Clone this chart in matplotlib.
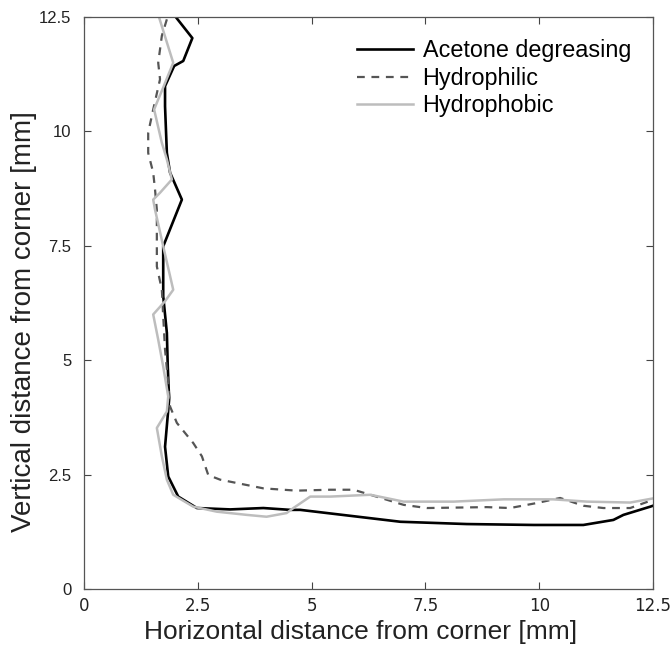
import matplotlib.pyplot as plt
from matplotlib import font_manager

# corner profiles, x/y in mm
acetone_x = [2.00, 2.38, 2.18, 1.98, 1.78, 1.78, 1.82, 1.89, 2.15, 1.74, 1.74, 1.82,
             1.84, 1.87, 1.78, 1.85, 2.07, 2.48, 3.21, 3.94, 4.53, 4.75, 5.85, 6.95,
             8.41, 9.88, 10.97, 11.63, 11.85, 12.44, 12.5]
acetone_y = [12.52, 12.04, 11.54, 11.43, 10.99, 10.55, 9.53, 9.10, 8.51, 7.49, 6.40, 5.60,
             4.86, 4.14, 3.11, 2.46, 2.02, 1.77, 1.74, 1.77, 1.73, 1.73, 1.60, 1.47,
             1.42, 1.40, 1.40, 1.51, 1.62, 1.80, 1.82]

philic_x = [1.82, 1.71, 1.63, 1.67, 1.52, 1.41, 1.41, 1.52, 1.56, 1.60, 1.60, 1.60,
            1.71, 1.74, 1.78, 1.85, 1.89, 2.04, 2.40, 2.59, 2.73, 2.99, 3.94, 4.67,
            5.41, 5.92, 6.29, 7.02, 7.53, 8.85, 9.36, 9.95, 10.46, 10.97, 11.41, 12.0, 12.5]
philic_y = [12.45, 12.09, 11.50, 11.14, 10.48, 9.97, 9.53, 9.10, 8.73, 8.29, 7.78, 7.05,
            6.54, 5.96, 5.23, 4.50, 3.99, 3.63, 3.19, 2.90, 2.49, 2.39, 2.20, 2.15,
            2.17, 2.17, 2.06, 1.84, 1.77, 1.79, 1.77, 1.88, 1.99, 1.82, 1.77, 1.77, 1.95]

phobic_x = [1.65, 1.96, 1.87, 1.74, 1.63, 1.54, 1.71, 1.82, 1.93, 1.67, 1.52, 1.56,
            1.74, 1.96, 1.78, 1.52, 1.63, 1.74, 1.85, 1.82, 1.60, 1.71, 1.82, 1.96,
            2.40, 2.92, 3.58, 4.01, 4.45, 4.60, 4.97, 5.41, 6.29, 7.02, 8.12, 9.22,
            10.31, 11.05, 12.0, 12.5]
phobic_y = [12.49, 11.50, 11.28, 10.96, 10.70, 10.48, 9.75, 9.39, 8.95, 8.66, 8.51, 8.29,
            7.49, 6.54, 6.29, 6.00, 5.45, 4.86, 4.21, 3.88, 3.52, 2.90, 2.39, 2.06,
            1.80, 1.69, 1.62, 1.58, 1.66, 1.77, 2.02, 2.02, 2.06, 1.91, 1.91, 1.96,
            1.96, 1.91, 1.89, 1.98]

ticks = [0, 2.5, 5, 7.5, 10, 12.5]
tick_labels = ['0', '2.5', '5', '7.5', '10', '12.5']

names = {f.name for f in font_manager.fontManager.ttflist}
narrow = 'Liberation Sans Narrow' if 'Liberation Sans Narrow' in names else 'DejaVu Sans Condensed'
plt.rcParams['font.family'] = ['Liberation Sans', 'DejaVu Sans']

fig = plt.figure(figsize=(6.7, 6.5), dpi=100)
ax = fig.add_axes([0.1254, 0.0938, 0.8492, 0.88])

ax.plot(acetone_x, acetone_y, color='black', lw=1.9, label='Acetone degreasing')
ax.plot(philic_x, philic_y, color='#555555', lw=1.6, ls=(0, (3.5, 3)), label='Hydrophilic')
ax.plot(phobic_x, phobic_y, color='#bdbdbd', lw=1.8, label='Hydrophobic')

ax.set_xlim(0, 12.5)
ax.set_ylim(0, 12.5)
ax.set_xticks(ticks)
ax.set_yticks(ticks)
ax.set_xticklabels(tick_labels, fontfamily=narrow, fontsize=12)
ax.set_yticklabels(tick_labels, fontsize=12)
ax.tick_params(direction='in', top=True, right=True, length=5, width=0.8,
               color='#444444', labelcolor='#222222')
ax.tick_params(axis='y', pad=9)
ax.tick_params(axis='x', pad=6)
for s in ax.spines.values():
    s.set_color('#555555')
    s.set_linewidth(0.9)

ax.set_xlabel('Horizontal distance from corner [mm]', fontsize=19, color='#222222')
ax.set_ylabel('Vertical distance from corner [mm]', fontsize=20, color='#222222')
ax.xaxis.set_label_coords(0.486, -0.054)
ax.yaxis.set_label_coords(-0.082, 0.467)

ax.legend(loc='upper right', frameon=False, fontsize=16.8, handlelength=2.4,
          handletextpad=0.43, labelspacing=0.2, borderaxespad=0.3,
          bbox_to_anchor=(0.99, 0.99))

fig.savefig('out.png', dpi=100)
